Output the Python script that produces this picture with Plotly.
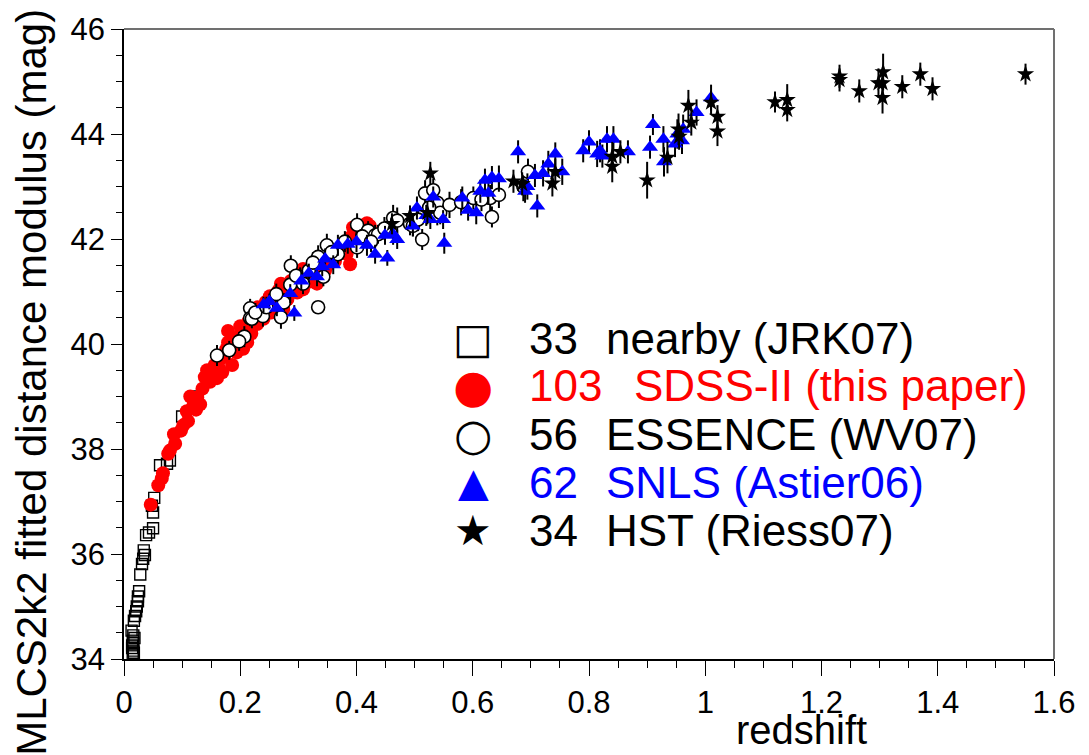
import plotly.graph_objects as go

# ---------------- data ----------------
nearby_z = [0.015, 0.016, 0.014, 0.015, 0.016, 0.013, 0.017, 0.014, 0.018, 0.016,
            0.026, 0.024, 0.024, 0.022, 0.021, 0.019, 0.017,
            0.028, 0.031, 0.033, 0.036, 0.034, 0.038, 0.043, 0.050,
            0.050, 0.048, 0.052, 0.062, 0.074, 0.079, 0.100, 0.127]
nearby_mu = [34.07, 34.16, 34.26, 34.35, 34.45, 34.54, 34.12, 34.21, 34.40, 34.30,
             35.29, 35.19, 35.10, 35.00, 34.91, 34.82, 34.73,
             35.61, 35.81, 35.91, 35.98, 36.07, 36.36, 36.41, 36.49,
             36.79, 36.92, 37.07, 37.69, 37.72, 37.78, 38.62, 39.00]

sdss_z = [0.046, 0.059, 0.065, 0.067, 0.076, 0.079, 0.088, 0.086, 0.110, 0.108,
          0.117, 0.126, 0.131, 0.119, 0.122, 0.114, 0.124, 0.143, 0.151, 0.160,
          0.169, 0.148, 0.165, 0.139, 0.179, 0.186, 0.188, 0.200, 0.212, 0.194,
          0.217, 0.222, 0.179, 0.205, 0.213, 0.200, 0.251, 0.263, 0.281, 0.234,
          0.256, 0.274, 0.303, 0.315, 0.325, 0.332, 0.291, 0.308, 0.355, 0.367,
          0.308, 0.320, 0.360, 0.389, 0.389, 0.423, 0.377, 0.394, 0.172, 0.176,
          0.183, 0.191, 0.197, 0.203, 0.208, 0.215, 0.219, 0.226, 0.229, 0.237,
          0.240, 0.244, 0.247, 0.253, 0.258, 0.261, 0.266, 0.269, 0.277, 0.284,
          0.287, 0.295, 0.298, 0.312, 0.318, 0.328, 0.336, 0.341, 0.346, 0.351,
          0.363, 0.372, 0.383, 0.400, 0.411, 0.418, 0.156, 0.163, 0.135, 0.098,
          0.102, 0.230, 0.270]
sdss_mu = [36.94, 37.31, 37.44, 37.54, 37.91, 37.97, 38.10, 38.28, 38.53, 38.72,
           38.98, 38.98, 38.85, 38.81, 38.88, 39.00, 38.75, 39.50, 39.41, 39.35,
           39.46, 39.28, 39.46, 39.37, 40.25, 39.60, 40.03, 40.16, 40.03, 39.84,
           40.29, 40.40, 40.03, 39.91, 40.40, 40.34, 40.91, 40.96, 40.85, 40.57,
           40.72, 40.66, 41.28, 41.41, 41.22, 41.15, 41.09, 41.04, 41.66, 41.71,
           41.43, 41.19, 41.66, 42.03, 41.52, 42.25, 41.90, 42.22, 39.75, 39.90,
           39.95, 40.10, 39.98, 40.22, 40.12, 40.45, 40.20, 40.50, 40.38, 40.62,
           40.48, 40.80, 40.66, 40.60, 40.88, 40.78, 41.02, 40.84, 41.08, 41.00,
           41.20, 41.22, 40.98, 41.30, 41.35, 41.48, 41.32, 41.55, 41.40, 41.52,
           41.58, 41.80, 41.72, 41.95, 42.10, 42.30, 39.60, 39.55, 39.15, 38.35,
           38.45, 40.70, 41.15]

essence_z = [0.160, 0.181, 0.207, 0.217, 0.217, 0.220, 0.239, 0.270, 0.275, 0.287,
             0.286, 0.303, 0.308, 0.334, 0.334, 0.349, 0.343, 0.368, 0.401, 0.401,
             0.420, 0.432, 0.437, 0.463, 0.492, 0.497, 0.506, 0.513, 0.518, 0.532,
             0.539, 0.539, 0.544, 0.633, 0.601, 0.630, 0.645, 0.695, 0.687, 0.226,
             0.245, 0.262, 0.296, 0.318, 0.325, 0.357, 0.380, 0.410, 0.425, 0.448,
             0.470, 0.525, 0.560, 0.580, 0.615, 0.198]
essence_mu = [39.78, 39.88, 40.14, 40.68, 40.49, 40.48, 40.53, 40.51, 40.79, 41.49,
              41.13, 41.28, 41.15, 41.66, 40.70, 41.88, 41.28, 41.71, 42.27, 41.84,
              42.16, 42.07, 42.09, 42.40, 42.29, 42.25, 42.37, 41.99, 42.87, 42.93,
              42.69, 42.46, 42.50, 42.42, 42.78, 42.78, 42.84, 43.28, 43.00, 40.60,
              40.70, 40.95, 41.30, 41.40, 41.55, 41.75, 41.95, 42.05, 41.95, 42.20,
              42.35, 42.60, 42.65, 42.70, 42.75, 40.05]
essence_err = [0.20, 0.18, 0.20, 0.18, 0.15, 0.18, 0.20, 0.22, 0.18, 0.20,
               0.15, 0.18, 0.20, 0.22, 0.10, 0.22, 0.18, 0.20, 0.22, 0.20,
               0.18, 0.20, 0.18, 0.25, 0.22, 0.20, 0.22, 0.20, 0.25, 0.22,
               0.25, 0.20, 0.22, 0.20, 0.22, 0.25, 0.25, 0.25, 0.28, 0.18,
               0.20, 0.20, 0.18, 0.20, 0.20, 0.22, 0.20, 0.22, 0.20, 0.22,
               0.25, 0.22, 0.25, 0.25, 0.22, 0.18]

snls_z = [0.250, 0.263, 0.286, 0.293, 0.332, 0.341, 0.346, 0.360, 0.368, 0.418,
          0.432, 0.453, 0.449, 0.463, 0.470, 0.497, 0.504, 0.527, 0.532, 0.549,
          0.551, 0.582, 0.592, 0.606, 0.613, 0.621, 0.633, 0.645, 0.627, 0.678,
          0.694, 0.707, 0.711, 0.721, 0.730, 0.690, 0.742, 0.754, 0.790, 0.800,
          0.814, 0.819, 0.823, 0.831, 0.842, 0.867, 0.910, 0.905, 0.928, 0.929,
          0.948, 0.952, 0.960, 0.962, 0.985, 1.010, 0.240, 0.305, 0.318, 0.385,
          0.400, 0.520]
snls_mu = [40.81, 40.68, 40.96, 40.59, 41.28, 41.47, 41.62, 41.51, 41.88, 41.88,
           41.71, 41.64, 42.07, 42.09, 41.99, 42.25, 42.59, 42.37, 42.80, 42.37,
           41.92, 42.78, 42.55, 42.50, 42.91, 43.12, 43.17, 43.15, 42.87, 43.66,
           43.00, 43.21, 42.63, 43.25, 43.43, 42.91, 43.62, 43.28, 43.68, 43.85,
           43.62, 43.68, 43.58, 43.90, 43.90, 43.66, 44.18, 43.75, 43.90, 43.47,
           43.81, 44.00, 43.87, 44.09, 44.41, 44.69, 40.75, 41.20, 41.35, 41.90,
           41.95, 42.45]
snls_err = [0.15, 0.15, 0.18, 0.15, 0.18, 0.18, 0.20, 0.18, 0.20, 0.20,
            0.18, 0.15, 0.18, 0.20, 0.18, 0.20, 0.22, 0.18, 0.20, 0.18,
            0.20, 0.22, 0.20, 0.22, 0.22, 0.22, 0.22, 0.25, 0.22, 0.22,
            0.25, 0.22, 0.22, 0.25, 0.25, 0.22, 0.22, 0.25, 0.22, 0.22,
            0.25, 0.22, 0.22, 0.25, 0.25, 0.22, 0.20, 0.22, 0.25, 0.28,
            0.25, 0.28, 0.25, 0.28, 0.25, 0.25, 0.15, 0.18, 0.18, 0.18,
            0.20, 0.20]

hst_z = [0.670, 0.527, 0.461, 0.492, 0.522, 0.737, 0.742, 0.840, 0.840, 0.854,
         0.900, 0.935, 0.954, 0.976, 0.971, 1.010, 1.021, 1.021, 1.120, 1.141,
         1.141, 1.231, 1.231, 1.265, 1.298, 1.305, 1.306, 1.305, 1.339, 1.370,
         1.391, 1.551, 0.955, 0.685]
hst_mu = [43.10, 43.25, 42.29, 42.44, 42.50, 43.06, 43.28, 43.57, 43.38, 43.66,
          43.12, 43.55, 44.09, 44.22, 44.54, 44.60, 44.33, 44.05, 44.61, 44.65,
          44.46, 45.10, 45.03, 44.82, 44.97, 44.97, 45.18, 44.69, 44.90, 45.14,
          44.86, 45.14, 43.95, 43.05]
hst_err = [0.22, 0.22, 0.20, 0.20, 0.22, 0.25, 0.25, 0.28, 0.30, 0.22,
           0.35, 0.30, 0.30, 0.25, 0.30, 0.22, 0.22, 0.28, 0.20, 0.30,
           0.22, 0.22, 0.22, 0.22, 0.28, 0.25, 0.35, 0.30, 0.22, 0.22,
           0.22, 0.20, 0.25, 0.22]

x_ticks = [0, 0.2, 0.4, 0.6, 0.8, 1.0, 1.2, 1.4, 1.6]
x_ticktext = ["0", "0.2", "0.4", "0.6", "0.8", "1", "1.2", "1.4", "1.6"]
y_ticks = [34, 36, 38, 40, 42, 44, 46]

legend_counts = ["33", "103", "56", "62", "34"]
legend_names = ["nearby (JRK07)", "SDSS-II (this paper)", "ESSENCE (WV07)",
                "SNLS (Astier06)", "HST (Riess07)"]
legend_glyphs = ["\u25A1", "\u25CF", "\u25CB", "\u25B2", "\u2605"]
legend_colors = ["black", "#ff0000", "black", "#0000ff", "black"]

FONT = "Liberation Sans, Arial, Helvetica, sans-serif"

# ---------------- figure ----------------
fig = go.Figure()

fig.add_trace(go.Scatter(
    x=nearby_z, y=nearby_mu, mode="markers", name="nearby",
    marker=dict(symbol="square-open", size=11, color="black", line=dict(width=1.4, color="black"))))

fig.add_trace(go.Scatter(
    x=sdss_z, y=sdss_mu, mode="markers", name="SDSS-II",
    marker=dict(symbol="circle", size=14, color="#ff0000", line=dict(width=0))))

fig.add_trace(go.Scatter(
    x=essence_z, y=essence_mu, mode="markers", name="ESSENCE",
    error_y=dict(type="data", array=essence_err, visible=True, color="black", thickness=2, width=0),
    marker=dict(symbol="circle", size=13, color="white", line=dict(width=1.6, color="black"))))

fig.add_trace(go.Scatter(
    x=snls_z, y=snls_mu, mode="markers", name="SNLS",
    error_y=dict(type="data", array=snls_err, visible=True, color="black", thickness=2, width=0),
    marker=dict(symbol="triangle-up", size=14, color="#0000ff", line=dict(width=0))))

fig.add_trace(go.Scatter(
    x=hst_z, y=hst_mu, mode="markers", name="HST",
    error_y=dict(type="data", array=hst_err, visible=True, color="black", thickness=2, width=0),
    marker=dict(symbol="star", size=13, color="black", line=dict(width=0))))

# plot-area geometry in pixels
W, H = 1089, 755
L, R, T, B = 124, 35, 18, 96
PW, PH = W - L - R, H - T - B


def px_x(px):
    return (px - L) / PW


def px_y(py):
    return (H - B - py) / PH


annotations = []
row_y = [333, 381, 431, 479, 528]
glyph_sizes = [42, 46, 44, 40, 42]
for i in range(len(legend_names)):
    annotations.append(dict(x=px_x(473), y=px_y(row_y[i]), xref="paper", yref="paper",
                            text=legend_glyphs[i], showarrow=False, xanchor="center", yanchor="middle",
                            font=dict(family="DejaVu Sans", size=glyph_sizes[i], color=legend_colors[i])))
    annotations.append(dict(x=px_x(527), y=px_y(row_y[i]), xref="paper", yref="paper",
                            text=legend_counts[i], showarrow=False, xanchor="left", yanchor="middle",
                            font=dict(family=FONT, size=44, color=legend_colors[i])))
    annotations.append(dict(x=px_x(632 if i == 1 else 604), y=px_y(row_y[i]), xref="paper", yref="paper",
                            text=legend_names[i], showarrow=False, xanchor="left", yanchor="middle",
                            font=dict(family=FONT, size=44, color=legend_colors[i])))

annotations.append(dict(x=px_x(801), y=px_y(731), xref="paper", yref="paper", text="redshift",
                        showarrow=False, xanchor="center", yanchor="middle",
                        font=dict(family=FONT, size=40, color="black")))
annotations.append(dict(x=px_x(32), y=px_y(378), xref="paper", yref="paper",
                        text="MLCS2k2 fitted distance modulus (mag)", textangle=-90,
                        showarrow=False, xanchor="center", yanchor="middle",
                        font=dict(family=FONT, size=42, color="black")))

fig.update_layout(
    width=W, height=H, autosize=False,
    margin=dict(l=L, r=R, t=T, b=B, pad=0),
    paper_bgcolor="white", plot_bgcolor="white",
    showlegend=False,
    font=dict(family=FONT, color="black"),
    annotations=annotations,
    shapes=[
        dict(type="line", xref="paper", yref="paper", x0=0, x1=1, y0=1, y1=1,
             line=dict(color="#707070", width=2)),
        dict(type="line", xref="paper", yref="paper", x0=1, x1=1, y0=0, y1=1,
             line=dict(color="#707070", width=2)),
    ],
)

fig.update_xaxes(
    range=[0, 1.6], tickvals=x_ticks, ticktext=x_ticktext,
    showgrid=False, zeroline=False, showline=True, linecolor="black", linewidth=1.5,
    ticks="outside", ticklen=15, tickwidth=1, tickcolor="black",
    tickfont=dict(family=FONT, size=31, color="black"),
    minor=dict(dtick=0.05, ticks="outside", ticklen=7, tickwidth=1, tickcolor="black", showgrid=False),
)
fig.update_yaxes(
    range=[34, 46], tickvals=y_ticks,
    showgrid=False, zeroline=False, showline=True, linecolor="black", linewidth=1.5,
    ticks="outside", ticklen=11, tickwidth=1, tickcolor="black",
    tickfont=dict(family=FONT, size=31, color="black"),
    minor=dict(dtick=0.5, ticks="outside", ticklen=6, tickwidth=1, tickcolor="black", showgrid=False),
)

fig.write_html("out.html")
